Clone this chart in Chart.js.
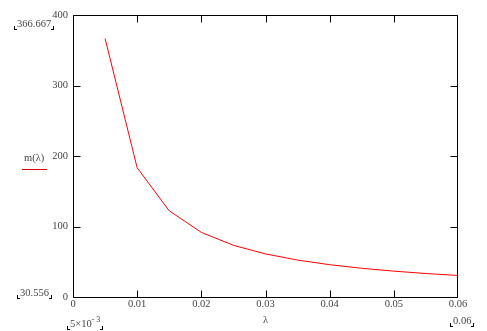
<!DOCTYPE html>
<html>
<head>
<meta charset="utf-8">
<script src="https://cdn.jsdelivr.net/npm/chart.js@4/dist/chart.umd.min.js"></script>
<style>
  html, body { margin: 0; padding: 0; background: #fff; }
  canvas { display: block; }
  .note {
    position: absolute;
    font: 10.5px "Liberation Serif", "Times New Roman", serif;
    line-height: 11px;
    color: #444;
    white-space: nowrap;
  }
  .corner { padding: 0 3px; }
  .corner::before, .corner::after {
    content: '';
    position: absolute;
    bottom: -1px;
    width: 2px;
    height: 3px;
    border-bottom: 1px solid #000;
  }
  .corner::before { left: 0; border-left: 1px solid #000; }
  .corner::after { right: 0; border-right: 1px solid #000; }
  .note sup { font-size: 8px; vertical-align: 5px; line-height: 0; }
  #legendLine { position: absolute; left: 22px; top: 169px; width: 25px; height: 1px; background: #e00000; }
</style>
</head>
<body>
<canvas id="plot" width="487" height="331"></canvas>
<span class="note corner" id="yTopNote" style="left:14px;top:18px"></span>
<span class="note corner" id="yBotNote" style="left:17px;top:287px"></span>
<span class="note corner" id="xEndNote" style="left:450px;top:315px"></span>
<span class="note corner" id="xStartNote" style="left:67px;top:318px">5×10<sup>- 3</sup></span>
<span class="note" id="legendText" style="left:24px;top:152px"></span>
<div id="legendLine"></div>
<script>
// data
let lambdas = [0.005, 0.01, 0.015, 0.02, 0.025, 0.03, 0.035, 0.04, 0.045, 0.05, 0.055, 0.06]
let mValues = [366.667, 183.333, 122.222, 91.667, 73.333, 61.111, 52.381, 45.833, 40.741, 36.667, 33.333, 30.556]
let xTicks = [0, 0.01, 0.02, 0.03, 0.04, 0.05, 0.06]
let yTicks = [0, 100, 200, 300, 400]
let seriesName = 'm(\u03bb)'

let fontFam = '"Liberation Serif", "Times New Roman", serif'
let txtColor = '#444'

document.getElementById('yTopNote').textContent = String(mValues[0])
document.getElementById('yBotNote').textContent = String(mValues[mValues.length - 1])
document.getElementById('xEndNote').textContent = String(lambdas[lambdas.length - 1])
document.getElementById('legendText').textContent = seriesName

function line(c, x1, y1, x2, y2) {
    c.beginPath()
    c.strokeStyle = '#000'
    c.lineWidth = 1
    c.moveTo(x1, y1)
    c.lineTo(x2, y2)
    c.stroke()
}

// box with inward ticks on all four sides
const mathcadFrame = {
    id: 'mathcadFrame',
    afterDraw(chart) {
        let c = chart.ctx
        let a = chart.chartArea
        let xs = chart.scales.x
        let ys = chart.scales.y
        let tl = 7
        let L = Math.round(a.left) + 0.5
        let R = Math.round(a.right) - 0.5
        let T = Math.round(a.top) + 0.5
        let B = Math.round(a.bottom) + 0.5
        c.save()
        line(c, L, T, R, T)
        line(c, L, B, R, B)
        line(c, L, T, L, B)
        line(c, R, T, R, B)
        for (let i = 0; i < xTicks.length; i++) {
            let px = Math.round(xs.getPixelForValue(xTicks[i])) + 0.5
            if (i === xTicks.length - 1) px = R
            line(c, px, B, px, B - tl)
            line(c, px, T, px, T + tl)
        }
        for (let i = 0; i < yTicks.length; i++) {
            let py = Math.round(ys.getPixelForValue(yTicks[i])) + 0.5
            line(c, L, py, L + tl, py)
            line(c, R, py, R - tl, py)
        }
        c.restore()
    }
}

const ctx = document.getElementById('plot').getContext('2d')
const plot = new Chart(ctx, {
    type: 'scatter',
    data: {
        datasets: [{
            data: lambdas.map((l, i) => ({ x: l, y: mValues[i] })),
            showLine: true,
            borderColor: '#ff0000',
            borderWidth: 1,
            pointRadius: 0,
            tension: 0
        }]
    },
    options: {
        responsive: false,
        animation: false,
        layout: { padding: { left: 0, top: 15, right: 29, bottom: 0 } },
        plugins: {
            legend: { display: false },
            tooltip: { enabled: false }
        },
        scales: {
            x: {
                type: 'linear',
                min: 0,
                max: 0.06,
                afterBuildTicks: s => { s.ticks = xTicks.map(v => ({ value: v })) },
                afterFit: s => { s.height = 34 },
                grid: { display: false, drawTicks: false },
                border: { display: false },
                ticks: {
                    color: txtColor,
                    font: { family: fontFam, size: 10.5 },
                    padding: 1,
                    maxRotation: 0,
                    callback: v => String(+v.toFixed(2))
                },
                title: {
                    display: true,
                    text: '\u03bb',
                    color: txtColor,
                    font: { family: fontFam, size: 10.5 },
                    padding: { top: 0, bottom: 4 }
                }
            },
            y: {
                type: 'linear',
                min: 0,
                max: 400,
                afterBuildTicks: s => { s.ticks = yTicks.map(v => ({ value: v })) },
                afterFit: s => { s.width = 73 },
                grid: { display: false, drawTicks: false },
                border: { display: false },
                ticks: {
                    color: txtColor,
                    font: { family: fontFam, size: 10.5 },
                    padding: 5
                }
            }
        }
    },
    plugins: [mathcadFrame]
})
</script>
</body>
</html>
